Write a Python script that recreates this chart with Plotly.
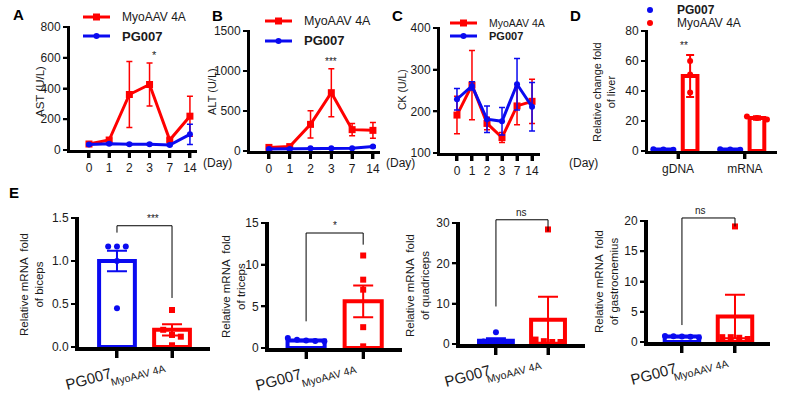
import plotly.graph_objects as go

W, H = 799, 399
RED = "#FF0000"
BLUE = "#0A0AF0"
FONT = "Liberation Sans, Arial, sans-serif"
TXT = "#1a1a1a"
INK = "#000000"

# ---------------- data ----------------
days = ["0", "1", "2", "3", "7", "14"]
series_names = ["MyoAAV 4A", "PG007"]

ast_myo = [39, 65, 361, 426, 65, 220]
ast_myo_err = [8, 10, 215, 140, 10, 130]
ast_pg = [36, 40, 37, 37, 32, 102]
ast_pg_err = [5, 5, 5, 5, 4, 66]

alt_myo = [45, 55, 333, 729, 267, 258]
alt_myo_err = [10, 10, 170, 300, 77, 98]
alt_pg = [25, 25, 33, 33, 33, 55]
alt_pg_err = [5, 5, 5, 5, 5, 10]

ck_myo = [191, 263, 171, 137, 213, 224]
ck_myo_err = [45, 83, 15, 12, 45, 53]
ck_pg = [229, 261, 181, 176, 265, 211]
ck_pg_err = [26, 10, 32, 33, 62, 58]

liver_cats = ["gDNA", "mRNA"]
liver_pg_mean = [1.0, 1.0]
liver_pg_sem = [0.1, 0.1]
liver_pg_pts = [[1.0, 1.1, 0.9], [1.0, 1.1, 0.9]]
liver_myo_mean = [50, 22]
liver_myo_sem = [14, 1.2]
liver_myo_pts = [[60, 51, 39], [23, 22, 21]]

groups = ["PG007", "MyoAAV 4A"]
muscles = ["biceps", "triceps", "quadriceps", "gastrocnemius"]
e_pg_mean = [1.0, 0.9, 0.8, 0.9]
e_pg_sem = [0.12, 0.08, 0.6, 0.1]
e_myo_mean = [0.2, 5.6, 6.0, 4.2]
e_myo_sem = [0.065, 1.9, 5.7, 3.6]
e_pg_pts = [[1.17, 1.17, 1.17, 1.0, 0.45],
            [1.2, 1.0, 0.9, 0.85, 0.8],
            [2.9, 0.6, 0.5, 0.5, 0.4],
            [1.0, 0.95, 0.9, 0.85, 0.75]]
e_myo_pts = [[0.43, 0.2, 0.14, 0.12, 0.02],
             [11.1, 8.2, 7.0, 2.5, 0.2],
             [28.4, 1.1, 0.7, 0.5, 0.5],
             [19.1, 0.8, 0.8, 0.7, 0.5]]
sig_labels = ["***", "*", "ns", "ns"]
sig_top = [1.41, 13.8, 30.8, 20.5]
sig_left_end = [1.33, 3.2, 9.3, 2.8]
sig_right_end = [0.57, 12.4, 27.9, 19.1]

# ---------------- helpers ----------------
def P(x):
    return x / W


def Q(y):
    return 1 - y / H


def spread(vals, center, tol, step):
    xs = [center] * len(vals)
    order = sorted(range(len(vals)), key=lambda i: -vals[i])
    clusters = []
    for i in order:
        if clusters and abs(vals[clusters[-1][-1]] - vals[i]) <= tol:
            clusters[-1].append(i)
        else:
            clusters.append([i])
    for c in clusters:
        n = len(c)
        for k, i in enumerate(c):
            xs[i] = center + (k - (n - 1) / 2) * step
    return xs


fig = go.Figure()
layout = {}
shapes = []
annotations = []

# panel geometry in pixels: (x0, x1, ytop, ybottom, xrange, yrange, dtick, linewidth)
panels = {
    1: (70, 197, 27, 150, [-0.94, 5.35], [0, 800], 200, 3),
    2: (250, 380, 31, 151, [-0.91, 5.34], [0, 1500], 500, 3),
    3: (440, 540, 28, 153, [-1.13, 5.53], [100, 400], 100, 3),
    4: (648, 777, 31, 151, [-0.45, 1.48], [0, 80], 20, 3),
    5: (79, 210, 218, 347, [-0.69, 1.69], [0, 1.5], 0.5, 4),
    6: (269, 402, 223, 348, [-0.65, 1.68], [0, 15], 5, 4),
    7: (460, 585, 223, 344, [-0.69, 1.71], [0, 30], 10, 4),
    8: (648, 770, 221, 342, [-0.64, 1.66], [0, 20], 5, 4),
}


def ax_ids(n):
    return ("x" if n == 1 else f"x{n}"), ("y" if n == 1 else f"y{n}")


def spx(n, v):
    """data x -> pixel x, following the axis domain and range"""
    x0, x1, _, _, xr, _, _, _ = panels[n]
    return x0 + (v - xr[0]) / (xr[1] - xr[0]) * (x1 - x0)


def spy(n, v):
    """data y -> pixel y, following the axis domain and range"""
    _, _, yt, yb, _, yr, _, _ = panels[n]
    return yb - (v - yr[0]) / (yr[1] - yr[0]) * (yb - yt)


def sx(n, v):
    return P(spx(n, v))


def sy(n, v):
    return Q(spy(n, v))


def polyline(pts, w, color="black"):
    path = " ".join(("M" if j == 0 else "L") + f"{P(a):.5f},{Q(b):.5f}" for j, (a, b) in enumerate(pts))
    shapes.append(dict(type="path", xref="paper", yref="paper", path=path,
                       line=dict(color=color, width=w), layer="above"))


def block(xa, ya, xb, yb_):
    """solid ink block in pixel coordinates (axis frame pieces)"""
    shapes.append(dict(type="rect", xref="paper", yref="paper",
                       x0=P(xa), x1=P(xb), y0=Q(yb_), y1=Q(ya),
                       fillcolor=INK, line=dict(width=0), layer="above"))


for n, (x0, x1, yt, yb, xr, yr, dt, lw) in panels.items():
    xid, yid = ax_ids(n)
    xkey = "xaxis" if n == 1 else f"xaxis{n}"
    ykey = "yaxis" if n == 1 else f"yaxis{n}"
    if n <= 3:
        tv, tt, showlab = list(range(len(days))), days, True
    elif n == 4:
        tv, tt, showlab = [0, 1], liver_cats, True
    else:
        tv, tt, showlab = [0, 1], groups, False
    xtl = 7 if n >= 5 else 5
    layout[xkey] = dict(
        domain=[P(x0), P(x1)], range=xr, anchor=yid, showline=True,
        linecolor=INK, linewidth=lw, ticks="outside",
        ticklen=xtl, tickwidth=3, tickcolor=INK,
        tickvals=tv, ticktext=tt, showticklabels=showlab, showgrid=False,
        zeroline=False, tickfont=dict(size=12, color=TXT, family=FONT),
    )
    yticks = []
    v = yr[0]
    while v <= yr[1] + 1e-9:
        yticks.append(v)
        v += dt
    ydict = dict(
        domain=[Q(yb), Q(yt)], range=yr, anchor=xid, showline=True,
        linecolor=INK, linewidth=lw, ticks="outside", ticklen=4,
        tickwidth=2, tickcolor=INK, tickvals=yticks,
        showgrid=False, zeroline=False,
        tickfont=dict(size=12, color=TXT, family=FONT),
    )
    if n == 5:
        ydict["tickformat"] = ".1f"
    layout[ykey] = ydict
    # axis frame (lines + tick marks) as solid blocks on the same axis scale
    block(x0 - lw, yt - 1, x0, yb + lw)
    block(x0 - lw, yb, x1, yb + lw)
    for t in tv:
        block(spx(n, t) - 1.5, yb + lw, spx(n, t) + 1.5, yb + lw + xtl)
    for t in yticks:
        block(x0 - lw - 4, spy(n, t) - 1, x0 - lw, spy(n, t) + 1)

# ---------------- panels A-C: time courses ----------------
line_sets = [
    (1, ast_myo, ast_myo_err, ast_pg, ast_pg_err),
    (2, alt_myo, alt_myo_err, alt_pg, alt_pg_err),
    (3, ck_myo, ck_myo_err, ck_pg, ck_pg_err),
]
for n, myo, myo_err, pg, pg_err in line_sets:
    xid, yid = ax_ids(n)
    xs = list(range(len(days)))
    fig.add_trace(go.Scatter(
        x=xs, y=myo, name=series_names[0], mode="lines+markers",
        line=dict(color=RED, width=3),
        marker=dict(symbol="square", size=7, color=RED),
        error_y=dict(type="data", array=myo_err, color=RED, thickness=1.5, width=3),
        xaxis=xid, yaxis=yid, showlegend=False))
    fig.add_trace(go.Scatter(
        x=xs, y=pg, name=series_names[1], mode="lines+markers",
        line=dict(color=BLUE, width=3),
        marker=dict(symbol="circle", size=6, color=BLUE),
        error_y=dict(type="data", array=pg_err, color=BLUE, thickness=1.5, width=3),
        xaxis=xid, yaxis=yid, showlegend=False))

# ---------------- panel D: liver ----------------
cx = [0, 1]
fig.add_trace(go.Bar(
    x=cx, y=liver_pg_mean, width=0.22, offset=-0.33,
    marker=dict(color="white", line=dict(color=BLUE, width=4)),
    error_y=dict(type="data", array=liver_pg_sem, color=BLUE, thickness=2, width=4),
    xaxis="x4", yaxis="y4", showlegend=False))
fig.add_trace(go.Bar(
    x=cx, y=liver_myo_mean, width=0.22, offset=0.07,
    marker=dict(color="white", line=dict(color=RED, width=4)),
    error_y=dict(type="data", array=liver_myo_sem, color=RED, thickness=2, width=4),
    xaxis="x4", yaxis="y4", showlegend=False))
px_, py_, rx_, ry_ = [], [], [], []
for i in range(len(liver_cats)):
    py_ += liver_pg_pts[i]
    px_ += spread(liver_pg_pts[i], i - 0.22, 4, 0.15)
    ry_ += liver_myo_pts[i]
    rx_ += spread(liver_myo_pts[i], i + 0.18, 4, 0.15)
fig.add_trace(go.Scatter(x=px_, y=py_, mode="markers", name="PG007",
                         marker=dict(color=BLUE, size=6), xaxis="x4", yaxis="y4", showlegend=False))
fig.add_trace(go.Scatter(x=rx_, y=ry_, mode="markers", name="MyoAAV 4A",
                         marker=dict(color=RED, size=6), xaxis="x4", yaxis="y4", showlegend=False))

# ---------------- panel E: muscles ----------------
for k in range(len(muscles)):
    n = 5 + k
    xid, yid = ax_ids(n)
    lo, hi = panels[n][5]
    tol = 0.05 * (hi - lo)
    fig.add_trace(go.Bar(
        x=[0], y=[e_pg_mean[k]], width=0.65, offset=-0.325,
        marker=dict(color="white", line=dict(color=BLUE, width=4)),
        error_y=dict(type="data", array=[e_pg_sem[k]], color=BLUE, thickness=2, width=10),
        xaxis=xid, yaxis=yid, showlegend=False))
    fig.add_trace(go.Bar(
        x=[1], y=[e_myo_mean[k]], width=0.65, offset=-0.325,
        marker=dict(color="white", line=dict(color=RED, width=4)),
        error_y=dict(type="data", array=[e_myo_sem[k]], color=RED, thickness=2, width=10),
        xaxis=xid, yaxis=yid, showlegend=False))
    fig.add_trace(go.Scatter(
        x=spread(e_pg_pts[k], 0, tol, 0.16), y=e_pg_pts[k], mode="markers",
        marker=dict(color=BLUE, size=6, symbol="circle"),
        xaxis=xid, yaxis=yid, showlegend=False))
    fig.add_trace(go.Scatter(
        x=spread(e_myo_pts[k], 1, tol, 0.16), y=e_myo_pts[k], mode="markers",
        marker=dict(color=RED, size=6, symbol="square"),
        xaxis=xid, yaxis=yid, showlegend=False))

    # significance bracket
    polyline([(spx(n, 0), spy(n, sig_left_end[k])), (spx(n, 0), spy(n, sig_top[k])),
              (spx(n, 1), spy(n, sig_top[k])), (spx(n, 1), spy(n, sig_right_end[k]))], 1)
    annotations.append(dict(x=sx(n, 0.5), y=sy(n, sig_top[k]), xref="paper", yref="paper",
                            text=sig_labels[k], showarrow=False, yanchor="bottom",
                            font=dict(size=10, color=TXT, family=FONT)))
    # rotated category labels
    annotations.append(dict(x=sx(n, 0), y=sy(n, lo), xref="paper", yref="paper", text=groups[0],
                            textangle=-15, showarrow=False, xanchor="center", yanchor="middle",
                            xshift=-28, yshift=-31,
                            font=dict(size=15, color=TXT, family=FONT)))
    annotations.append(dict(x=sx(n, 1), y=sy(n, lo), xref="paper", yref="paper", text=groups[1],
                            textangle=-15, showarrow=False, xanchor="center", yanchor="middle",
                            xshift=-34, yshift=-28,
                            font=dict(size=10.5, color=TXT, family=FONT)))
    # y titles
    ytc = [(31, 285), (233, 287), (417, 286), (606, 282)][k]
    annotations.append(dict(x=P(ytc[0]), y=Q(ytc[1]), xref="paper", yref="paper",
                            text="Relative mRNA  fold<br>of " + muscles[k], textangle=-90,
                            showarrow=False, xanchor="center", yanchor="middle",
                            font=dict(size=11.5, color=TXT, family=FONT)))

# significance stars on A, B, D
annotations.append(dict(x=sx(1, 3), y=sy(1, ast_myo[3] + ast_myo_err[3]), xref="paper", yref="paper",
                        text="*", showarrow=False, yanchor="bottom",
                        font=dict(size=11, color=TXT, family=FONT)))
annotations.append(dict(x=sx(2, 3), y=sy(2, alt_myo[3] + alt_myo_err[3]), xref="paper", yref="paper",
                        text="***", showarrow=False, yanchor="bottom",
                        font=dict(size=10, color=TXT, family=FONT)))
annotations.append(dict(x=sx(4, 0.18), y=sy(4, liver_myo_mean[0] + liver_myo_sem[0]), xref="paper",
                        yref="paper", text="**", showarrow=False, yanchor="bottom", yshift=2,
                        font=dict(size=10, color=TXT, family=FONT)))

# y titles of top row
for text, cxp, cyp, sz in [("AST (U/L)", 40, 92, 11.5), ("ALT (U/L)", 212, 92, 11),
                           ("CK (U/L)", 402, 90, 10.5),
                           ("Relative change fold<br>of liver", 604, 92, 11)]:
    annotations.append(dict(x=P(cxp), y=Q(cyp), xref="paper", yref="paper", text=text,
                            textangle=-90, showarrow=False, xanchor="center", yanchor="middle",
                            font=dict(size=sz, color=TXT, family=FONT)))

# (Day) labels
for xl in [201, 384, 567]:
    annotations.append(dict(x=P(xl), y=Q(163), xref="paper", yref="paper", text="(Day)",
                            showarrow=False, xanchor="left", yanchor="middle",
                            font=dict(size=12, color=TXT, family=FONT)))

# panel letters
for letter, lx, ly in [("A", 18, 14), ("B", 217, 15), ("C", 397, 15), ("D", 575, 15), ("E", 14, 193)]:
    annotations.append(dict(x=P(lx), y=Q(ly), xref="paper", yref="paper", text="<b>" + letter + "</b>",
                            showarrow=False, xanchor="center", yanchor="middle",
                            font=dict(size=15, color="black", family=FONT)))

# ---------------- legends (key swatches + labels) ----------------
# (line start x, line end x, y, text x, font size, label, colour, symbol)
legend_items = [
    (83, 110, 17, 120, 12, series_names[0], RED, "square"),
    (83, 110, 36, 120, 13, "<b>" + series_names[1] + "</b>", BLUE, "circle"),
    (265, 292, 21, 302, 12.5, series_names[0], RED, "square"),
    (265, 292, 41, 302, 13, "<b>" + series_names[1] + "</b>", BLUE, "circle"),
    (450, 477, 23, 487, 10.5, series_names[0], RED, "square"),
    (450, 477, 36, 487, 11, "<b>" + series_names[1] + "</b>", BLUE, "circle"),
    (None, 650, 10, 675, 12, "<b>" + series_names[1] + "</b>", BLUE, "circle"),
    (None, 650, 23, 675, 12, series_names[0], RED, "circle"),
]
for xa, xb, yy, xt, fs, label, col, sym in legend_items:
    if xa is not None:
        polyline([(xa, yy), (xb, yy)], 3, col)
        cxm = (xa + xb) / 2
    else:
        cxm = xb
    r = 3.5 if sym == "square" else 3
    shapes.append(dict(type="rect" if sym == "square" else "circle", xref="paper", yref="paper",
                       x0=P(cxm - r), x1=P(cxm + r), y0=Q(yy + r), y1=Q(yy - r),
                       fillcolor=col, line=dict(width=0)))
    annotations.append(dict(x=P(xt), y=Q(yy), xref="paper", yref="paper", text=label,
                            showarrow=False, xanchor="left", yanchor="middle",
                            font=dict(size=fs, color=TXT, family=FONT)))

layout.update(
    width=W, height=H, margin=dict(l=0, r=0, t=0, b=0, pad=0, autoexpand=False),
    paper_bgcolor="white", plot_bgcolor="white", showlegend=False,
    shapes=shapes, annotations=annotations,
    font=dict(family=FONT, color=TXT),
)
fig.update_layout(**layout)
fig.write_html("out.html", config={"displayModeBar": False},
               post_script="document.body.style.margin='0';document.body.style.overflow='hidden';")
